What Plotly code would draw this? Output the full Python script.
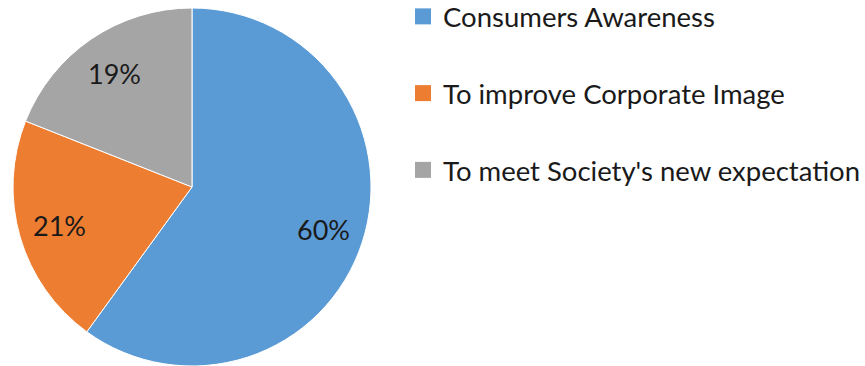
import math
import plotly.graph_objects as go

labels = ["Consumers Awareness", "To improve Corporate Image", "To meet Society's new expectation"]
values = [60, 21, 19]
colors = ["#5B9BD5", "#ED7D31", "#A5A5A5"]

W, H = 865, 366
FONT = "Lato"

# pie domain (pixels)
x0, x1 = 12, 372
top, bottom = 8, 366
cx = (x0 + x1) / 2
R = min(x1 - x0, bottom - top) / 2
cy = top + (bottom - top) / 2

fig = go.Figure()
fig.add_trace(go.Pie(
    labels=labels, values=values, sort=False, direction="clockwise", rotation=0,
    marker=dict(colors=colors, line=dict(color="white", width=1)),
    textinfo="none",
    domain=dict(x=[x0 / W, x1 / W], y=[1 - bottom / H, 1 - top / H]),
    showlegend=False, hoverinfo="label+percent",
))
for lab, col in zip(labels, colors):
    fig.add_trace(go.Scatter(
        x=[None], y=[None], mode="markers", name=lab, legendgroup=lab,
        marker=dict(symbol="square", size=16, color=col),
    ))

# percentage labels placed at the middle angle of each slice
total = sum(values)
cum = 0
annotations = []
for v in values:
    mid = (cum + v / 2) / total * 2 * math.pi
    cum += v
    px = cx + 0.77 * R * math.sin(mid)
    py = cy - 0.77 * R * math.cos(mid)
    annotations.append(dict(
        x=px / W, y=1 - py / H, xref="paper", yref="paper",
        text=f"{round(v / total * 100)}%", showarrow=False,
        font=dict(family=FONT, size=27, color="#1a1a1a"),
        xanchor="center", yanchor="middle",
    ))

fig.update_layout(
    width=W, height=H, margin=dict(l=0, r=0, t=0, b=0, autoexpand=False),
    paper_bgcolor="white", plot_bgcolor="white",
    xaxis=dict(visible=False), yaxis=dict(visible=False),
    annotations=annotations,
    legend=dict(x=403 / W, y=1 + 8 / H, xanchor="left", yanchor="top",
                font=dict(family=FONT, size=27.5, color="#1a1a1a"),
                tracegroupgap=38, itemsizing="trace", maxheight=H,
                bgcolor="rgba(0,0,0,0)"),
    font=dict(family=FONT),
)
fig.write_html("out.html")
